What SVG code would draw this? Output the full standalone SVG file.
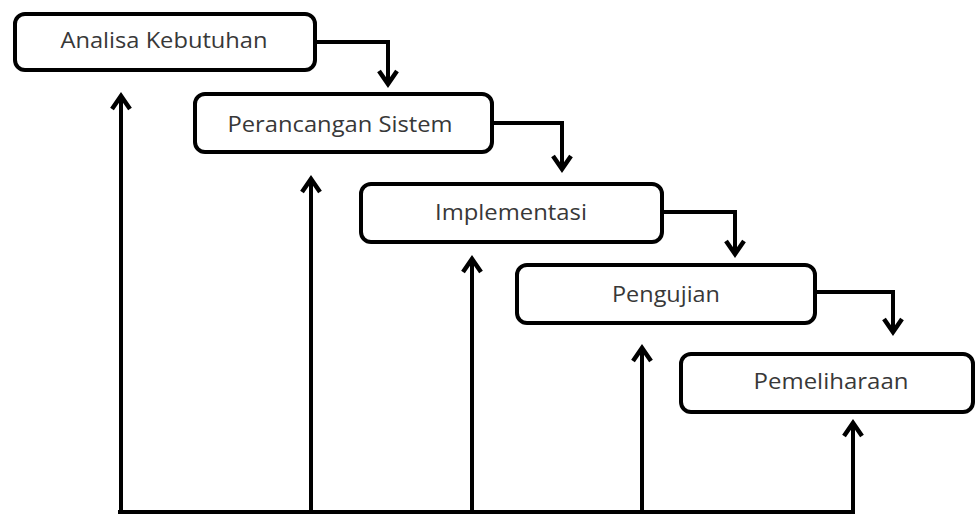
<svg xmlns="http://www.w3.org/2000/svg" width="976" height="515" viewBox="0 0 976 515">
<style>
.box{fill:#fff;stroke:#000;stroke-width:4}
.lbl{font-family:"Open Sans","Noto Sans","Liberation Sans",sans-serif;font-size:21px;fill:#383838;text-anchor:middle}
.con{fill:none;stroke:#000;stroke-width:4;stroke-linejoin:miter}
</style>
<defs>
<marker id="ah" markerUnits="userSpaceOnUse" viewBox="-18 -14 22 28" refX="0" refY="0" markerWidth="22" markerHeight="28" orient="auto" overflow="visible">
<path d="M-13,-9 L0,0 L-13,9" fill="none" stroke="#000" stroke-width="4.5"/>
</marker>
</defs>
<rect width="976" height="515" fill="#fff"/>
<g id="connectors">
<path class="con" d="M315,42 H388 V84" marker-end="url(#ah)"/>
<path class="con" d="M492,123 H562 V169" marker-end="url(#ah)"/>
<path class="con" d="M662,212 H735 V254" marker-end="url(#ah)"/>
<path class="con" d="M815,292 H893 V332" marker-end="url(#ah)"/>
<path class="con" d="M118,512 H855"/>
<path class="con" d="M121,514 V96" marker-end="url(#ah)"/>
<path class="con" d="M311,514 V179" marker-end="url(#ah)"/>
<path class="con" d="M472,514 V259" marker-end="url(#ah)"/>
<path class="con" d="M642,514 V348" marker-end="url(#ah)"/>
<path class="con" d="M853,514 V423" marker-end="url(#ah)"/>
</g>
<g id="n1"><rect class="box" x="15" y="14" width="300" height="56" rx="10"/><text class="lbl" x="164" y="48" textLength="207" lengthAdjust="spacingAndGlyphs">Analisa Kebutuhan</text></g>
<g id="n2"><rect class="box" x="195" y="94" width="297" height="58" rx="10"/><text class="lbl" x="340" y="132" textLength="225" lengthAdjust="spacingAndGlyphs">Perancangan Sistem</text></g>
<g id="n3"><rect class="box" x="361" y="184" width="301" height="58" rx="10"/><text class="lbl" x="511" y="220" textLength="152" lengthAdjust="spacingAndGlyphs">Implementasi</text></g>
<g id="n4"><rect class="box" x="517" y="265" width="298" height="58" rx="10"/><text class="lbl" x="666" y="302" textLength="108" lengthAdjust="spacingAndGlyphs">Pengujian</text></g>
<g id="n5"><rect class="box" x="681" y="354" width="292" height="58" rx="10"/><text class="lbl" x="831" y="389" textLength="155" lengthAdjust="spacingAndGlyphs">Pemeliharaan</text></g>
</svg>
